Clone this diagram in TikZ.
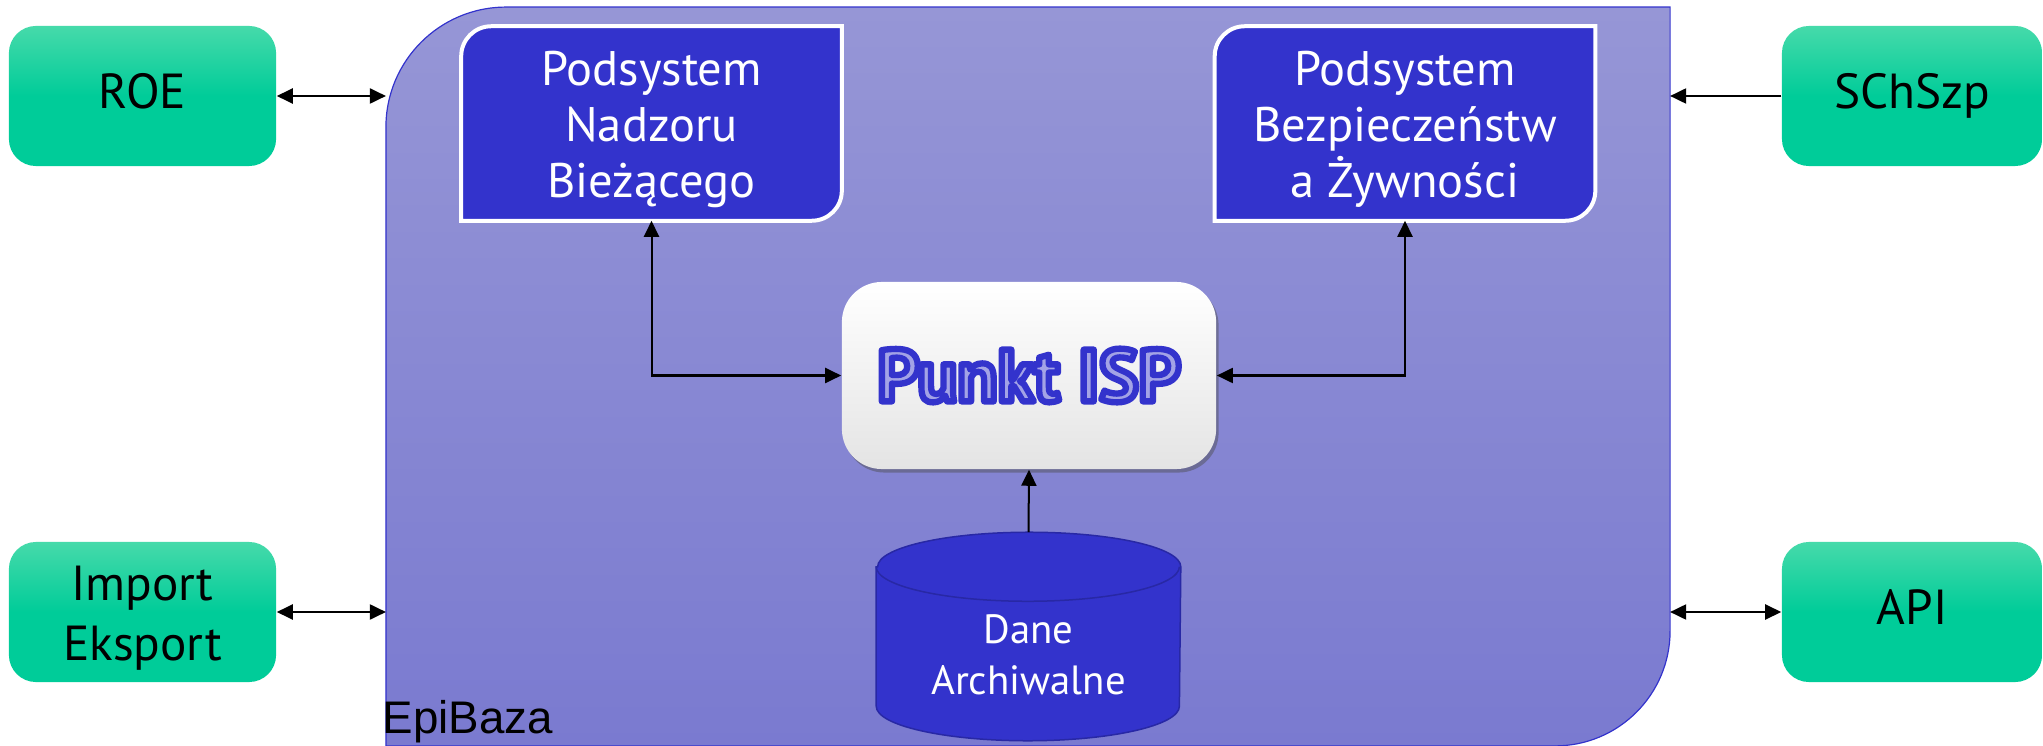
\documentclass[tikz,border=0pt]{standalone}
\usepackage{fontspec}
\setmainfont{PT Sans}
\newfontfamily\arialf{Liberation Sans}
\usetikzlibrary{arrows.meta,shadows}

\definecolor{subblue}{RGB}{51,51,204}
\definecolor{gtop}{RGB}{70,218,170}
\definecolor{gbot}{RGB}{0,204,153}
\definecolor{maintop}{RGB}{150,150,214}
\definecolor{mainbot}{RGB}{122,122,208}
\definecolor{cylborder}{RGB}{40,40,165}
\definecolor{isplight}{RGB}{163,163,230}
\definecolor{ispbot}{RGB}{228,228,228}

\newcommand{\outlinedtext}[1]{{\color{isplight}\special{pdf:literal direct 2 Tr 1.8 w 1 j 0.2 0.2 0.8 RG}#1\special{pdf:literal direct 0 Tr}}}

\tikzset{
  ext/.style={rounded corners=0.27cm, minimum height=1.40cm, inner sep=0pt,
    top color=gtop, bottom color=gbot, middle color=gbot,
    font=\fontsize{14}{17}\selectfont, text=black, align=center},
  oneline/.style={text height=0.7em, text depth=0pt},
  gtext/.style={font=\fontsize{14}{17}\selectfont, text=black, align=center, inner sep=0pt},
  frame/.style={minimum width=3.79cm, minimum height=1.93cm, inner sep=0pt},
  subtext/.style={font=\fontsize{13.8}{16}\selectfont, text=white, align=center, inner sep=0pt},
  ispbox/.style={rounded corners=0.4cm, minimum width=3.74cm, minimum height=1.87cm, inner sep=0pt,
    top color=white, middle color=white, bottom color=ispbot,
    drop shadow={shadow xshift=0.025cm, shadow yshift=-0.035cm, opacity=0.45, fill=black!70}},
  conn/.style={line width=0.02cm, black},
}

\begin{document}
\begin{tikzpicture}[x=0.01cm,y=0.01cm, >={Triangle[length=0.16cm,width=0.15cm]}]
\useasboundingbox (0,0) rectangle (2043,-746);

% main EpiBaza area
\node[minimum width=12.82cm, minimum height=7.37cm, inner sep=0pt] (main) at (1028,-376.5) {};
\path[draw=subblue, line width=0.012cm, top color=maintop, bottom color=mainbot]
  (main.south west) -- ([yshift=-1.2cm]main.north west)
  arc[start angle=180, end angle=90, radius=1.2cm] -- (main.north east)
  -- ([yshift=1.15cm]main.south east)
  arc[start angle=0, end angle=-90, radius=1.15cm] -- cycle;
\node[anchor=base west, font=\arialf\fontsize{13}{15}\selectfont, inner sep=0pt] (epi) at (382,-733) {EpiBaza};

% external systems
\node[ext, oneline, minimum width=2.67cm] (roe) at (142.5,-96) {ROE};
\node[ext, minimum width=2.67cm] (imp) at (142.5,-612) {};
\node[gtext] (impt) at (142.5,-618) {Import\\Eksport};
\node[ext, oneline, minimum width=2.60cm] (sch) at (1912,-96) {SChSzp};
\node[ext, oneline, minimum width=2.60cm] (api) at (1912,-612) {API};

% subsystems
\node[frame] (nad) at (651.5,-123.5) {};
\path[draw=white, line width=0.04cm, fill=subblue]
  (nad.south west) -- ([yshift=-0.3cm]nad.north west)
  arc[start angle=180, end angle=90, radius=0.3cm] -- (nad.north east)
  -- ([yshift=0.3cm]nad.south east)
  arc[start angle=0, end angle=-90, radius=0.3cm] -- cycle;
\node[subtext] (nadt) at (651.5,-129.5) {Podsystem\\Nadzoru\\Bieżącego};

\node[frame] (bez) at (1405,-123.5) {};
\path[draw=white, line width=0.04cm, fill=subblue]
  (bez.south west) -- ([yshift=-0.3cm]bez.north west)
  arc[start angle=180, end angle=90, radius=0.3cm] -- (bez.north east)
  -- ([yshift=0.3cm]bez.south east)
  arc[start angle=0, end angle=-90, radius=0.3cm] -- cycle;
\node[subtext] (bezt) at (1405,-129.5) {Podsystem\\Bezpieczeństw\\a Żywności};

% Punkt ISP
\node[ispbox, font=\bfseries\fontsize{21}{24}\selectfont] (isp) at (1029,-375.5)
  {\outlinedtext{Punkt ISP}};

% archive cylinder
\node[minimum width=3.03cm, minimum height=2.07cm, inner sep=0pt] (cyl) at (1028.5,-636.5) {};
\path[fill=subblue, draw=cylborder, line width=0.015cm]
  ([yshift=-0.345cm]cyl.north west) -- ([yshift=0.345cm]cyl.south west)
  arc[start angle=180, end angle=360, x radius=1.515cm, y radius=0.345cm]
  -- ([yshift=-0.345cm]cyl.north east)
  arc[start angle=0, end angle=180, x radius=1.515cm, y radius=0.345cm] -- cycle;
\draw[cylborder, line width=0.015cm] ([yshift=-0.345cm]cyl.north west)
  arc[start angle=180, end angle=360, x radius=1.515cm, y radius=0.345cm];
\node[font=\fontsize{11.6}{14.5}\selectfont, text=white, align=center, inner sep=0pt] (cylt) at (1028.5,-655) {Dane\\Archiwalne};

% connectors
\draw[conn,<->] (roe.east) -- (roe.east -| main.west);
\draw[conn,<->] (imp.east) -- (imp.east -| main.west);
\draw[conn,->] (sch.west) -- (sch.west -| main.east);
\draw[conn,<->] (api.west) -- (api.west -| main.east);
\draw[conn,<->] (nad.south) |- (isp.west);
\draw[conn,<->] (bez.south) |- (isp.east);
\draw[conn,->] (cyl.north) -- (isp.south);
\end{tikzpicture}
\end{document}
